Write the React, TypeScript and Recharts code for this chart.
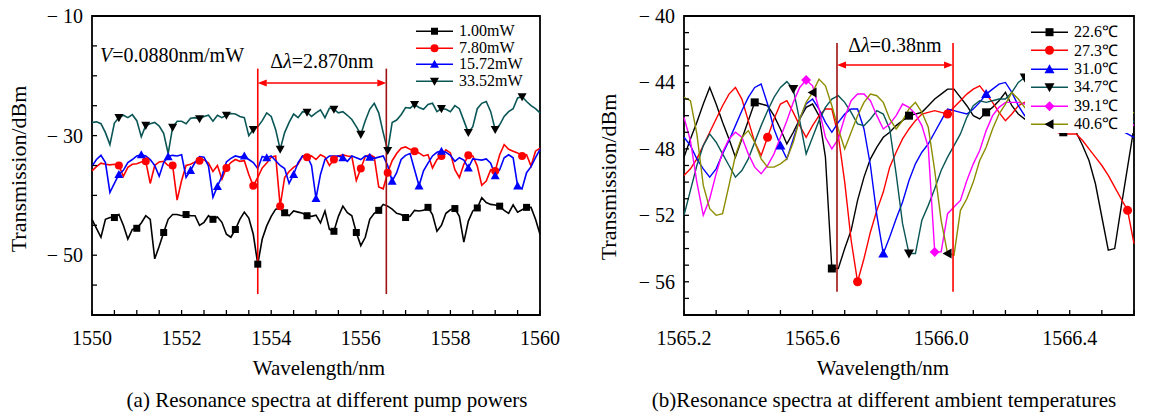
import React from 'react'
import { LineChart, Line, XAxis, YAxis, ReferenceLine, ReferenceArea, Legend } from 'recharts'

const FONT = '"Liberation Serif", "Times New Roman", serif'

// ---- (a) resonance spectra vs pump power, sampled every 0.1 nm ----
const wavelengthA = Array.from({ length: 101 }, (_, i) => Math.round((1550 + i * 0.1) * 10) / 10)

const power100 = [
  -44.0, -45.5, -47.0, -44.0, -43.7, -43.7, -43.2, -45.0, -47.3, -45.7,
  -45.5, -44.6, -43.4, -44.0, -50.6, -48.5, -46.2, -44.0, -43.2, -43.2,
  -43.4, -43.2, -43.4, -43.4, -45.0, -44.5, -43.4, -44.0, -43.6, -44.5,
  -46.5, -47.0, -45.7, -44.0, -42.8, -43.8, -46.5, -51.5, -47.3, -45.1,
  -43.5, -42.3, -42.2, -42.9, -43.4, -42.6, -42.8, -43.0, -43.4, -43.5,
  -43.3, -44.6, -42.6, -45.7, -46.0, -43.5, -41.8, -42.9, -43.4, -46.2,
  -48.4, -47.0, -44.0, -43.0, -42.5, -41.5, -41.8, -42.3, -43.0, -43.2,
  -43.7, -43.5, -42.5, -42.6, -42.5, -42.0, -43.2, -46.0, -45.0, -43.0,
  -42.4, -42.2, -43.5, -47.8, -44.3, -42.6, -42.1, -40.4, -41.2, -41.5,
  -41.6, -41.8, -42.5, -43.0, -41.6, -42.8, -42.4, -42.0, -42.0, -44.0,
  -46.5,
]
const power780 = [
  -35.9, -35.2, -34.6, -34.8, -34.9, -34.8, -35.0, -36.8, -35.3, -34.8,
  -34.7, -34.4, -34.3, -38.0, -35.0, -34.4, -34.3, -35.0, -35.0, -40.8,
  -37.5, -35.0, -34.8, -34.4, -34.2, -34.0, -34.6, -36.0, -35.0, -37.3,
  -35.4, -34.5, -34.0, -34.3, -34.2, -36.5, -38.4, -37.0, -35.4, -34.6,
  -33.6, -33.4, -41.8, -37.0, -36.0, -35.3, -34.8, -33.4, -33.6, -33.4,
  -34.0, -33.2, -33.6, -35.0, -34.0, -33.4, -33.2, -33.4, -33.5, -37.5,
  -35.5, -33.5, -33.2, -33.6, -38.6, -38.9, -36.2, -34.2, -33.0, -32.1,
  -31.9, -32.3, -32.6, -32.9, -33.4, -33.2, -35.4, -34.0, -33.4, -32.4,
  -32.9, -35.7, -37.0, -34.8, -33.3, -33.4, -35.1, -38.3, -37.6, -35.7,
  -35.9, -33.2, -31.5, -32.3, -32.6, -32.9, -33.4, -33.2, -35.1, -32.6,
  -32.1,
]
const power1572 = [
  -35.1, -34.0, -33.3, -34.5, -39.5, -38.0, -36.5, -35.8, -34.5, -34.0,
  -33.4, -33.2, -33.4, -34.0, -35.0, -36.8, -34.5, -33.5, -33.3, -33.4,
  -33.2, -37.0, -35.8, -34.5, -33.5, -33.6, -35.1, -40.3, -38.5, -36.8,
  -34.4, -33.8, -33.4, -33.6, -33.4, -34.0, -34.5, -35.5, -33.5, -33.7,
  -33.4, -34.2, -35.0, -35.5, -38.0, -36.5, -34.5, -33.4, -33.4, -35.0,
  -40.5, -36.5, -34.0, -33.4, -33.4, -33.4, -33.7, -34.3, -33.4, -33.7,
  -34.0, -33.4, -33.6, -33.8, -33.6, -33.4, -35.0, -37.6, -36.2, -34.0,
  -33.3, -33.0, -35.7, -38.4, -35.9, -34.6, -33.4, -32.8, -32.6, -32.8,
  -33.3, -34.3, -33.7, -34.1, -35.4, -33.9, -34.0, -34.1, -33.9, -34.6,
  -36.7, -35.7, -33.7, -33.2, -33.7, -38.4, -38.9, -36.2, -35.2, -33.7,
  -32.3,
]
const power3352 = [
  -27.8, -27.7, -28.0, -29.5, -31.5, -27.9, -27.0, -26.6, -27.0, -26.5,
  -27.5, -30.2, -28.3, -28.0, -27.8, -28.4, -29.6, -33.0, -28.6, -27.6,
  -27.6, -28.0, -27.1, -27.0, -27.2, -26.8, -26.6, -27.6, -26.6, -27.0,
  -26.6, -26.3, -26.4, -26.8, -27.0, -30.0, -29.0, -28.5, -27.5, -26.2,
  -26.8, -29.0, -32.3, -29.5, -27.8, -26.4, -27.0, -26.0, -26.1, -26.8,
  -26.2, -25.7, -27.0, -25.4, -25.6, -26.2, -26.0, -26.6, -27.3, -28.5,
  -29.8, -27.5, -25.6, -24.6, -26.2, -29.5, -32.5, -27.8, -27.4, -26.5,
  -25.3, -25.4, -24.8, -25.3, -25.6, -24.8, -24.6, -26.0, -25.5, -25.6,
  -26.0, -25.0, -25.5, -27.5, -29.5, -28.5, -25.5, -24.6, -24.3, -26.0,
  -29.0, -28.2, -26.8, -26.0, -25.5, -23.7, -23.5, -24.3, -25.0, -25.5,
  -26.2,
]
const powerLabels = ['1.00mW', '7.80mW', '15.72mW', '33.52mW']

// ---- (b) resonance spectra vs ambient temperature, sampled every 0.02 nm ----
const wavelengthB = Array.from({ length: 71 }, (_, i) => Math.round((1565.2 + i * 0.02) * 100) / 100)

const temp226 = [
  -48.5, -47.4, -46.4, -45.3, -44.3, -45.3, -46.4, -47.4, -48.5, -47.4,
  -46.3, -45.2, -45.3, -45.4, -46.0, -46.8, -47.7, -47.0, -46.2, -45.5,
  -45.3, -46.0, -48.5, -55.2, -55.2, -54.0, -52.9, -51.1, -49.7, -48.6,
  -47.9, -47.3, -47.0, -46.6, -46.3, -46.0, -45.9, -45.8, -45.4, -45.0,
  -44.7, -44.4, -44.4, -44.9, -45.4, -46.0, -46.2, -45.8, -45.5, -45.1,
  -44.6, -45.4, -45.9, -46.2, -46.3, -46.5, -46.6, -46.8, -46.9, -47.0,
  -47.0, -47.0, -47.8, -48.7, -50.1, -52.1, -54.1, -54.0, -51.5, -49.1,
  -46.7,
]
const temp273 = [
  -49.6, -49.2, -48.6, -47.8, -47.0, -46.2, -45.4, -44.7, -44.3, -45.0,
  -46.3, -47.6, -48.4, -47.3, -46.2, -45.3, -45.1, -45.8, -46.6, -47.3,
  -46.6, -46.0, -45.6, -45.6, -47.2, -50.0, -53.5, -56.0, -54.6, -53.0,
  -51.7, -50.6, -49.1, -48.2, -47.4, -46.8, -46.3, -45.9, -45.8, -45.7,
  -45.8, -45.9, -45.5, -45.1, -44.7, -44.4, -44.2, -44.7, -45.2, -45.8,
  -46.3, -45.9, -45.4, -45.2, -45.6, -46.0, -46.4, -46.8, -47.0, -47.1,
  -47.1, -47.1, -47.5, -48.0, -48.5, -49.0, -49.6, -50.3, -51.0, -51.7,
  -53.7,
]
const temp310 = [
  -47.3, -47.8, -48.6, -49.2, -49.7, -49.2, -48.3, -47.5, -46.6, -45.7,
  -44.9, -44.3, -44.1, -45.3, -46.8, -47.8, -48.6, -47.4, -46.2, -45.3,
  -45.0, -45.6, -46.4, -47.0, -46.4, -45.9, -45.6, -45.6, -46.8, -49.0,
  -52.0, -54.3, -53.3, -52.2, -51.2, -49.9, -48.9, -48.2, -47.7, -47.0,
  -46.3, -45.6, -45.7, -45.8, -45.9, -45.6, -45.2, -44.7, -44.4, -44.1,
  -44.0, -44.6, -45.4, -46.0, -46.3, -46.5, -46.3, -45.9, -45.6, -45.5,
  -45.7, -46.1, -46.5, -46.6, -46.4, -46.2, -46.3, -46.6, -46.9, -47.1,
  -47.3,
]
const temp347 = [
  -52.0, -50.5, -49.0, -47.8, -47.1, -47.6, -48.3, -49.0, -49.7, -49.3,
  -48.6, -47.6, -46.6, -45.7, -44.9, -44.3, -43.95, -44.4, -46.3, -48.3,
  -47.3, -46.3, -45.5, -45.0, -44.8, -45.2, -45.8, -46.5, -46.6, -46.2,
  -45.7, -45.9, -46.8, -49.5, -52.5, -54.3, -54.3, -52.3, -51.4, -50.4,
  -49.3, -48.5, -47.8, -47.1, -46.1, -45.4, -45.1, -45.2, -45.1, -45.0,
  -45.0, -44.6, -44.0, -43.7, -44.2, -44.8, -45.5, -46.0, -45.6, -45.1,
  -44.9, -45.2, -45.8, -46.4, -46.8, -46.5, -46.0, -45.7, -45.6, -45.9,
  -46.4,
]
const temp391 = [
  -46.1, -47.5, -50.0, -52.0, -51.0, -49.5, -48.2, -47.4, -47.0, -47.3,
  -48.3, -49.1, -49.5, -49.0, -48.3, -47.3, -46.3, -45.2, -44.3, -43.85,
  -44.2, -45.6, -47.3, -48.0, -47.4, -46.1, -45.1, -44.7, -44.7, -45.1,
  -46.0, -46.8, -46.5, -46.0, -45.3, -45.5, -45.9, -46.6, -47.9, -54.2,
  -54.2, -51.9, -51.5, -51.1, -49.9, -48.9, -48.1, -46.9, -46.0, -45.5,
  -45.2, -45.2, -45.2, -45.3, -45.6, -46.0, -46.3, -46.1, -45.7, -45.4,
  -45.3, -45.6, -46.2, -46.8, -47.0, -46.6, -46.1, -45.8, -45.9, -46.2,
  -46.6,
]
const temp406 = [
  -44.9, -45.1, -47.1, -50.2, -51.6, -52.0, -51.9, -50.2, -48.4, -47.3,
  -46.9, -47.6, -48.6, -49.1, -49.1, -48.9, -48.6, -47.6, -46.2, -45.2,
  -44.6, -43.8, -44.2, -45.4, -46.8, -48.0, -47.0, -46.0, -45.2, -44.7,
  -44.8, -45.2, -46.2, -46.8, -46.3, -45.6, -45.2, -45.8, -46.7, -49.3,
  -52.3, -54.3, -54.4, -51.7, -51.0, -50.0, -48.7, -47.9, -46.8, -45.9,
  -45.3, -44.6, -45.0, -45.5, -46.0, -46.2, -45.8, -45.3, -45.0, -45.2,
  -45.7, -46.3, -46.6, -46.3, -45.8, -45.4, -45.3, -45.5, -45.9, -46.0,
  -45.8,
]
const tempLabels = ['22.6℃', '27.3℃', '31.0℃', '34.7℃', '39.1℃', '40.6℃']

// axis tick labels
const xLabelsA = [1550, 1552, 1554, 1556, 1558, 1560]
const yLabelsA = [-10, -30, -50]
const xLabelsB = [1565.2, 1565.6, 1566.0, 1566.4]
const yLabelsB = [-40, -44, -48, -52, -56]

// resonance shift markers
const shiftA = [1553.7, 1556.57]
const shiftB = [1565.676, 1566.037]

const ticksA_x = Array.from({ length: 21 }, (_, i) => 1550 + i * 0.5)
const ticksA_y = Array.from({ length: 11 }, (_, i) => -60 + i * 5)
const ticksB_x = Array.from({ length: 15 }, (_, i) => Math.round((1565.2 + i * 0.1) * 10) / 10)
const ticksB_y = Array.from({ length: 19 }, (_, i) => -58 + i)

const dataA = wavelengthA.map((w, i) => ({
  w, p1: power100[i], p2: power780[i], p3: power1572[i], p4: power3352[i],
}))
const dataB = wavelengthB.map((w, i) => ({
  w, t1: temp226[i], t2: temp273[i], t3: temp310[i], t4: temp347[i], t5: temp391[i], t6: temp406[i],
}))

type Shape = 'square' | 'circle' | 'up' | 'down' | 'diamond' | 'left'

const Marker = ({ shape, cx, cy, size, fill }: { shape: Shape; cx: number; cy: number; size: number; fill: string }) => {
  const h = size / 2
  switch (shape) {
    case 'square':
      return <rect x={cx - h} y={cy - h} width={size} height={size} fill={fill} />
    case 'circle':
      return <circle cx={cx} cy={cy} r={h} fill={fill} />
    case 'up':
      return <polygon points={`${cx},${cy - h} ${cx + h},${cy + h * 0.8} ${cx - h},${cy + h * 0.8}`} fill={fill} />
    case 'down':
      return <polygon points={`${cx - h},${cy - h * 0.8} ${cx + h},${cy - h * 0.8} ${cx},${cy + h}`} fill={fill} />
    case 'diamond':
      return <polygon points={`${cx},${cy - h} ${cx + h},${cy} ${cx},${cy + h} ${cx - h},${cy}`} fill={fill} />
    default:
      return <polygon points={`${cx - h},${cy} ${cx + h * 0.8},${cy - h} ${cx + h * 0.8},${cy + h}`} fill={fill} />
  }
}

const markIndices = (start: number, step: number, n: number) => {
  const s = new Set<number>()
  for (let v = start; v < n; v += step) s.add(Math.round(v))
  return s
}

const dotFn = (shape: Shape, fill: string, size: number, marks: Set<number>) => (props: any) => {
  const { cx, cy, index } = props
  if (!marks.has(index) || cx == null || cy == null) return <g key={`d${index}`} />
  return (
    <g key={`d${index}`}>
      <Marker shape={shape} cx={cx} cy={cy} size={size} fill={fill} />
    </g>
  )
}

const seriesA = [
  { key: 'p1', name: powerLabels[0], color: '#000000', fill: '#000000', shape: 'square' as Shape, size: 7, marks: markIndices(5, 5.4, 101) },
  { key: 'p2', name: powerLabels[1], color: '#ff0000', fill: '#ff0000', shape: 'circle' as Shape, size: 8, marks: markIndices(6, 6, 101) },
  { key: 'p3', name: powerLabels[2], color: '#0000ff', fill: '#0000ff', shape: 'up' as Shape, size: 9, marks: markIndices(5.6, 5.6, 101) },
  { key: 'p4', name: powerLabels[3], color: '#0a5656', fill: '#000000', shape: 'down' as Shape, size: 9, marks: markIndices(6, 6, 101) },
]

const seriesB = [
  { key: 't1', name: tempLabels[0], color: '#000000', fill: '#000000', shape: 'square' as Shape, size: 8, marks: markIndices(11, 12, 71) },
  { key: 't2', name: tempLabels[1], color: '#ff0000', fill: '#ff0000', shape: 'circle' as Shape, size: 9, marks: markIndices(13, 14, 71) },
  { key: 't3', name: tempLabels[2], color: '#0000ff', fill: '#0000ff', shape: 'up' as Shape, size: 10, marks: markIndices(15, 16, 71) },
  { key: 't4', name: tempLabels[3], color: '#0a5656', fill: '#000000', shape: 'down' as Shape, size: 10, marks: markIndices(17, 18, 71) },
  { key: 't5', name: tempLabels[4], color: '#ff00ff', fill: '#ff00ff', shape: 'diamond' as Shape, size: 10, marks: markIndices(19, 20, 71) },
  { key: 't6', name: tempLabels[5], color: '#8c8c00', fill: '#000000', shape: 'left' as Shape, size: 10, marks: markIndices(20, 21, 71) },
]

const near = (list: number[], v: number) => list.some((l) => Math.abs(l - v) < 1e-6)
const minus = (v: number, digits = 0) => (v < 0 ? '\u2212 ' : '') + Math.abs(v).toFixed(digits)

const xTick = (bottom: number, labels: number[], digits: number) => (props: any) => {
  const { x, payload } = props
  const v = payload.value
  return (
    <g>
      <line x1={x} x2={x} y1={bottom} y2={bottom - 5} stroke="#000" strokeWidth={1.3} />
      {near(labels, v) && (
        <text x={x} y={bottom + 30} textAnchor="middle" fontSize={20} fontFamily={FONT} fill="#000">
          {v.toFixed(digits)}
        </text>
      )}
    </g>
  )
}

const yTick = (left: number, labels: number[]) => (props: any) => {
  const { y, payload } = props
  const v = payload.value
  return (
    <g>
      <line x1={left} x2={left + 5} y1={y} y2={y} stroke="#000" strokeWidth={1.3} />
      {near(labels, v) && (
        <text x={left - 9} y={y + 7} textAnchor="end" fontSize={20} fontFamily={FONT} fill="#000">
          {minus(v)}
        </text>
      )}
    </g>
  )
}

const doubleArrow = (color: string) => (props: any) => {
  const { x1, x2, y1 } = props
  const a = 9
  const w = 3.5
  return (
    <g>
      <line x1={x1 + a} x2={x2 - a} y1={y1} y2={y1} stroke={color} strokeWidth={1.5} />
      <polygon points={`${x1},${y1} ${x1 + a},${y1 - w} ${x1 + a},${y1 + w}`} fill={color} />
      <polygon points={`${x2},${y1} ${x2 - a},${y1 - w} ${x2 - a},${y1 + w}`} fill={color} />
    </g>
  )
}

const LegendBox = ({ items, rowH, fontSize, pad }: any) => (
  <div style={{ background: '#fff', fontFamily: FONT, fontSize, color: '#000', padding: pad }}>
    {items.map((it: any) => (
      <div key={it.name} style={{ display: 'flex', alignItems: 'center', height: rowH }}>
        <svg width={37} height={rowH} style={{ display: 'block' }}>
          <line x1={0} x2={37} y1={rowH / 2} y2={rowH / 2} stroke={it.color} strokeWidth={1.5} />
          <Marker shape={it.shape} cx={18.5} cy={rowH / 2} size={it.size} fill={it.fill} />
        </svg>
        <span style={{ marginLeft: 6, whiteSpace: 'nowrap', lineHeight: 1 }}>{it.name}</span>
      </div>
    ))}
  </div>
)

const PumpChart = () => (
  <LineChart width={560} height={360} data={dataA} margin={{ top: 16, right: 20, bottom: 0, left: 0 }}>
    <XAxis dataKey="w" type="number" domain={[1550, 1560]} ticks={ticksA_x} interval={0}
      axisLine={false} tickLine={false} height={45} tick={xTick(315, xLabelsA, 0)} />
    <YAxis type="number" domain={[-60, -10]} ticks={ticksA_y} interval={0}
      axisLine={false} tickLine={false} width={92} tick={yTick(92, yLabelsA)} />
    <ReferenceArea x1={1550} x2={1560} y1={-60} y2={-10} fill="none" stroke="#000" strokeWidth={1.8} ifOverflow="visible" />
    {seriesA.map((s) => (
      <Line key={s.key} dataKey={s.key} name={s.name} stroke={s.color} strokeWidth={1.6}
        dot={dotFn(s.shape, s.fill, s.size, s.marks)} activeDot={false} isAnimationActive={false} />
    ))}
    <ReferenceLine segment={[{ x: shiftA[0], y: -18.8 }, { x: shiftA[0], y: -56.5 }]} stroke="#ff0000" strokeWidth={1.6} />
    <ReferenceLine segment={[{ x: shiftA[1], y: -18.8 }, { x: shiftA[1], y: -56.5 }]} stroke="#a01010" strokeWidth={1.6} />
    <ReferenceLine segment={[{ x: shiftA[0], y: -21.2 }, { x: shiftA[1], y: -21.2 }]} stroke="#ff0000" shape={doubleArrow('#ff0000')} />
    <Legend layout="vertical" align="center" verticalAlign="middle"
      wrapperStyle={{ left: 416, top: 23, width: 'auto', height: 'auto' }}
      content={() => <LegendBox items={seriesA} rowH={16.5} fontSize={16} pad={0} />} />
  </LineChart>
)

const TempChart = () => (
  <LineChart width={571} height={360} data={dataB} margin={{ top: 16, right: 27, bottom: 0, left: 0 }}>
    <XAxis dataKey="w" type="number" domain={[1565.2, 1566.6]} ticks={ticksB_x} interval={0}
      axisLine={false} tickLine={false} height={45} tick={xTick(315, xLabelsB, 1)} />
    <YAxis type="number" domain={[-58, -40]} ticks={ticksB_y} interval={0}
      axisLine={false} tickLine={false} width={94} tick={yTick(94, yLabelsB)} />
    <ReferenceArea x1={1565.2} x2={1566.6} y1={-58} y2={-40} fill="none" stroke="#000" strokeWidth={1.8} ifOverflow="visible" />
    {seriesB.map((s) => (
      <Line key={s.key} dataKey={s.key} name={s.name} stroke={s.color} strokeWidth={1.4}
        dot={dotFn(s.shape, s.fill, s.size, s.marks)} activeDot={false} isAnimationActive={false} />
    ))}
    <ReferenceLine segment={[{ x: shiftB[0], y: -41.63 }, { x: shiftB[0], y: -56.6 }]} stroke="#a01010" strokeWidth={1.6} />
    <ReferenceLine segment={[{ x: shiftB[1], y: -41.63 }, { x: shiftB[1], y: -56.6 }]} stroke="#ff0000" strokeWidth={1.6} />
    <ReferenceLine segment={[{ x: shiftB[0], y: -42.95 }, { x: shiftB[1], y: -42.95 }]} stroke="#ff0000" shape={doubleArrow('#ff0000')} />
    <Legend layout="vertical" align="center" verticalAlign="middle"
      wrapperStyle={{ left: 435, top: 21, width: 108, height: 'auto' }}
      content={() => <LegendBox items={seriesB} rowH={18.4} fontSize={16} pad="2px 0 0 6px" />} />
  </LineChart>
)

const txt = { fontFamily: FONT, fill: '#000' }

export default function App() {
  return (
    <div style={{ position: 'absolute', left: 0, top: 0, width: 1161, height: 412, background: '#fff', overflow: 'hidden' }}>
      <div style={{ position: 'absolute', left: 0, top: 0 }}>
        <PumpChart />
      </div>
      <div style={{ position: 'absolute', left: 590, top: 0 }}>
        <TempChart />
      </div>
      <svg width={1161} height={412} style={{ position: 'absolute', left: 0, top: 0, pointerEvents: 'none' }}>
        <text {...txt} fontSize={20} x={100} y={62}>
          <tspan fontStyle="italic">V</tspan>=0.0880nm/mW
        </text>
        <text {...txt} fontSize={20} x={322} y={68} textAnchor="middle">
          Δ<tspan fontStyle="italic">λ</tspan>=2.870nm
        </text>
        <text {...txt} fontSize={20} x={895} y={52} textAnchor="middle">
          Δ<tspan fontStyle="italic">λ</tspan>=0.38nm
        </text>
        <text {...txt} fontSize={22} textAnchor="middle" transform="translate(26,169) rotate(-90)">Transmission/dBm</text>
        <text {...txt} fontSize={22} textAnchor="middle" transform="translate(616,177) rotate(-90)">Transmission/dBm</text>
        <text {...txt} fontSize={21} x={319} y={375} textAnchor="middle">Wavelength/nm</text>
        <text {...txt} fontSize={21} x={883} y={375} textAnchor="middle">Wavelength/nm</text>
        <text {...txt} fontSize={21} x={327} y={407} textAnchor="middle">(a) Resonance spectra at different pump powers</text>
        <text {...txt} fontSize={21} x={884} y={407} textAnchor="middle">(b)Resonance spectra at different ambient temperatures</text>
      </svg>
    </div>
  )
}
